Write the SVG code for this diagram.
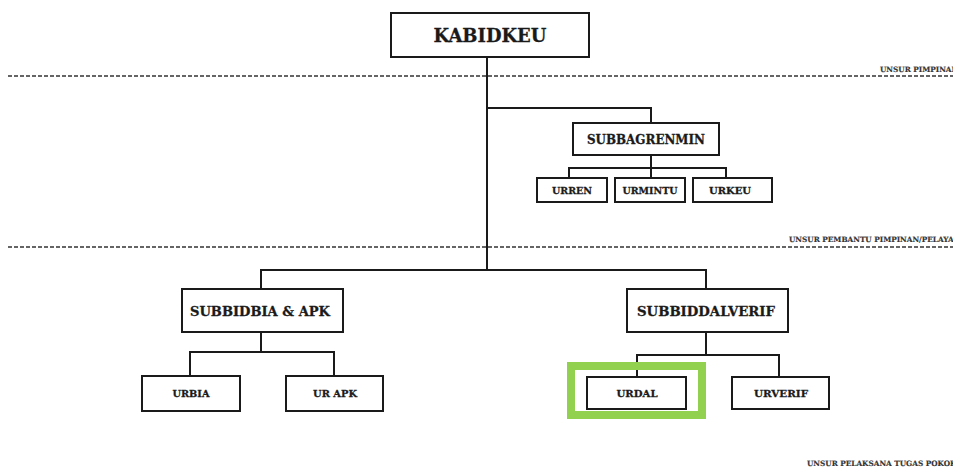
<svg xmlns="http://www.w3.org/2000/svg" width="953" height="470" viewBox="0 0 953 470">
<style>
.box{fill:#fff;stroke:#1a1a1a;stroke-width:2}
.ln{fill:none;stroke:#1a1a1a;stroke-width:2}
.dash{fill:none;stroke:#333;stroke-width:1.5;stroke-dasharray:4 2}
text{font-family:"DejaVu Serif","Liberation Serif",serif;font-weight:bold;fill:#1a1a1a;text-anchor:middle;stroke:#1a1a1a;stroke-width:0.3}
.t1{font-size:19px}
.t2{font-size:13px}
.t3{font-size:10px}
.lab{font-size:7.3px;text-anchor:start;fill:#333;stroke:#333;stroke-width:0.15}
</style>
<rect width="953" height="470" fill="#fff"/>
<g id="sections">
<line class="dash" x1="8" y1="76" x2="953" y2="76"/>
<text class="lab" x="880" y="72">UNSUR PIMPINAN</text>
<line class="dash" x1="8" y1="247" x2="953" y2="247"/>
<text class="lab" x="789" y="242">UNSUR  PEMBANTU PIMPINAN/PELAYANAN</text>
<text class="lab" x="807" y="466">UNSUR PELAKSANA TUGAS POKOK</text>
</g>
<g id="connectors">
<polyline class="ln" points="487,57 487,270"/>
<polyline class="ln" points="487,108 651,108 651,123"/>
<polyline class="ln" points="651,155 651,168"/>
<polyline class="ln" points="569,178 569,168 726,168 726,178"/>
<polyline class="ln" points="651,168 651,178"/>
<polyline class="ln" points="261,289 261,270 706,270 706,289"/>
<polyline class="ln" points="261,332 261,352"/>
<polyline class="ln" points="190,376 190,352 334,352 334,376"/>
<polyline class="ln" points="706,332 706,355"/>
<polyline class="ln" points="637,377 637,355 779,355 779,377"/>
</g>
<g id="kabidkeu"><rect class="box" x="391" y="13" width="198" height="44"/><text class="t1" x="490" y="42" textLength="113" lengthAdjust="spacingAndGlyphs">KABIDKEU</text></g>
<g id="subbagrenmin"><rect class="box" x="573" y="123" width="146" height="32"/><text class="t2" x="646" y="144" textLength="118" lengthAdjust="spacingAndGlyphs">SUBBAGRENMIN</text></g>
<g id="urren"><rect class="box" x="537" y="178" width="70" height="24"/><text class="t3" x="572" y="194" textLength="40" lengthAdjust="spacingAndGlyphs">URREN</text></g>
<g id="urmintu"><rect class="box" x="615" y="178" width="70" height="24"/><text class="t3" x="650" y="194" textLength="55" lengthAdjust="spacingAndGlyphs">URMINTU</text></g>
<g id="urkeu"><rect class="box" x="693" y="178" width="79" height="24"/><text class="t3" x="730" y="194" textLength="42" lengthAdjust="spacingAndGlyphs">URKEU</text></g>
<g id="subbidbia"><rect class="box" x="182" y="289" width="161" height="43"/><text class="t2" x="260" y="316" textLength="140" lengthAdjust="spacingAndGlyphs">SUBBIDBIA &amp; APK</text></g>
<g id="subbiddalverif"><rect class="box" x="627" y="289" width="161" height="43"/><text class="t2" x="706" y="316" textLength="138" lengthAdjust="spacingAndGlyphs">SUBBIDDALVERIF</text></g>
<g id="urbia"><rect class="box" x="142" y="376" width="98" height="35"/><text class="t3" x="191" y="397" textLength="37" lengthAdjust="spacingAndGlyphs">URBIA</text></g>
<g id="urapk"><rect class="box" x="286" y="376" width="97" height="35"/><text class="t3" x="335" y="397" textLength="44" lengthAdjust="spacingAndGlyphs">UR APK</text></g>
<g id="urdal"><rect class="box" x="587" y="377" width="99" height="32"/><text class="t3" x="637" y="397" textLength="41" lengthAdjust="spacingAndGlyphs">URDAL</text><rect x="571" y="366" width="131" height="49" fill="none" stroke="#92d050" stroke-width="8"/></g>
<g id="urverif"><rect class="box" x="732" y="377" width="97" height="32"/><text class="t3" x="781" y="397" textLength="54" lengthAdjust="spacingAndGlyphs">URVERIF</text></g>
</svg>
